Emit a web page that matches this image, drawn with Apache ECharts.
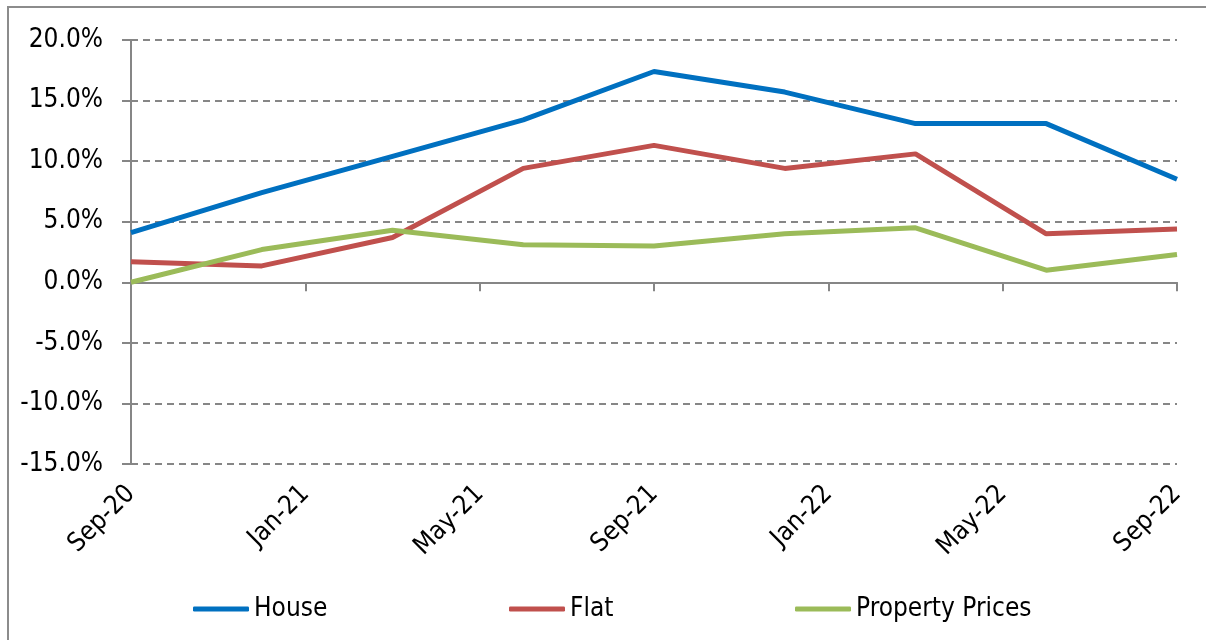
<!DOCTYPE html>
<html>
<head>
<meta charset="utf-8">
<script src="https://cdn.jsdelivr.net/npm/echarts@6/dist/echarts.min.js"></script>
<style>
  html, body { margin: 0; padding: 0; background: #fff; }
  #chart { width: 1206px; height: 640px; }
</style>
</head>
<body>
<div id="chart"></div>
<script>
// Monthly category axis (labels every 4 months)
const months = ['Sep-20','Oct-20','Nov-20','Dec-20','Jan-21','Feb-21','Mar-21','Apr-21','May-21','Jun-21','Jul-21','Aug-21',
                'Sep-21','Oct-21','Nov-21','Dec-21','Jan-22','Feb-22','Mar-22','Apr-22','May-22','Jun-22','Jul-22','Aug-22','Sep-22'];
// Quarterly observation dates
const quarters = ['Sep-20','Dec-20','Mar-21','Jun-21','Sep-21','Dec-21','Mar-22','Jun-22','Sep-22'];
// Values in percent
const house    = [4.1, 7.4, 10.4, 13.4, 17.4, 15.7, 13.1, 13.1, 8.5];
const flat     = [1.7, 1.35, 3.7, 9.4, 11.3, 9.4, 10.6, 4.0, 4.4];
const property = [0.0, 2.7, 4.3, 3.1, 3.0, 4.0, 4.5, 1.0, 2.3];
const yTicks = { min: -15, max: 20, interval: 5 };

const FONT = '"DejaVu Sans Condensed", "DejaVu Sans", sans-serif';
const AXIS_GRAY = '#868686';

function pairs(vals) { return quarters.map((q, i) => [q, vals[i]]); }

const chart = echarts.init(document.getElementById('chart'), null, { renderer: 'canvas' });

const seriesDefs = [
  { name: 'House', data: house, color: '#0070C0' },
  { name: 'Flat', data: flat, color: '#C0504D' },
  { name: 'Property Prices', data: property, color: '#9BBB59' }
];
const legendLefts = [193, 509, 795];

chart.setOption({
  backgroundColor: '#fff',
  animation: false,
  textStyle: { fontFamily: FONT },
  graphic: [{
    type: 'rect',
    shape: { x: 8, y: 7, width: 1400, height: 800 },
    style: { fill: 'none', stroke: '#8c8c8c', lineWidth: 2 },
    silent: true
  }],
  legend: seriesDefs.map((s, i) => ({
    data: [s.name],
    left: legendLefts[i],
    top: 596,
    padding: 0,
    icon: 'roundRect',
    itemWidth: 56,
    itemHeight: 5,
    textStyle: { fontFamily: FONT, fontSize: 26, color: '#000' },
    selectedMode: false
  })),
  grid: { left: 131, top: 40, width: 1046, height: 424, containLabel: false },
  xAxis: [{
    type: 'category',
    data: months,
    boundaryGap: false,
    position: 'bottom',
    axisLine: { show: false, onZero: false },
    axisTick: { show: false },
    splitLine: { show: false },
    axisLabel: {
      interval: 3,
      rotate: 45,
      margin: 26,
      fontFamily: FONT,
      fontSize: 26,
      color: '#000'
    }
  }, {
    type: 'category',
    data: months,
    boundaryGap: false,
    position: 'bottom',
    axisLine: { show: true, onZero: true, lineStyle: { color: AXIS_GRAY, width: 2 } },
    axisTick: { show: true, interval: 3, length: 9, lineStyle: { color: AXIS_GRAY, width: 2 } },
    axisLabel: { show: false },
    splitLine: { show: false }
  }],
  yAxis: {
    type: 'value',
    min: yTicks.min,
    max: yTicks.max,
    interval: yTicks.interval,
    axisLine: { show: true, lineStyle: { color: AXIS_GRAY, width: 2 } },
    axisTick: { show: true, length: 9, lineStyle: { color: AXIS_GRAY, width: 2 } },
    axisLabel: {
      margin: 28,
      fontFamily: FONT,
      fontSize: 26,
      color: '#000',
      formatter: v => v.toFixed(1) + '%'
    },
    splitLine: { show: true, lineStyle: { color: AXIS_GRAY, width: 2, type: [7, 5] } }
  },
  series: seriesDefs.map(s => ({
    name: s.name,
    type: 'line',
    xAxisIndex: 0,
    data: pairs(s.data),
    symbol: 'none',
    color: s.color,
    lineStyle: { color: s.color, width: 5 },
    itemStyle: { color: s.color }
  }))
});
</script>
</body>
</html>
